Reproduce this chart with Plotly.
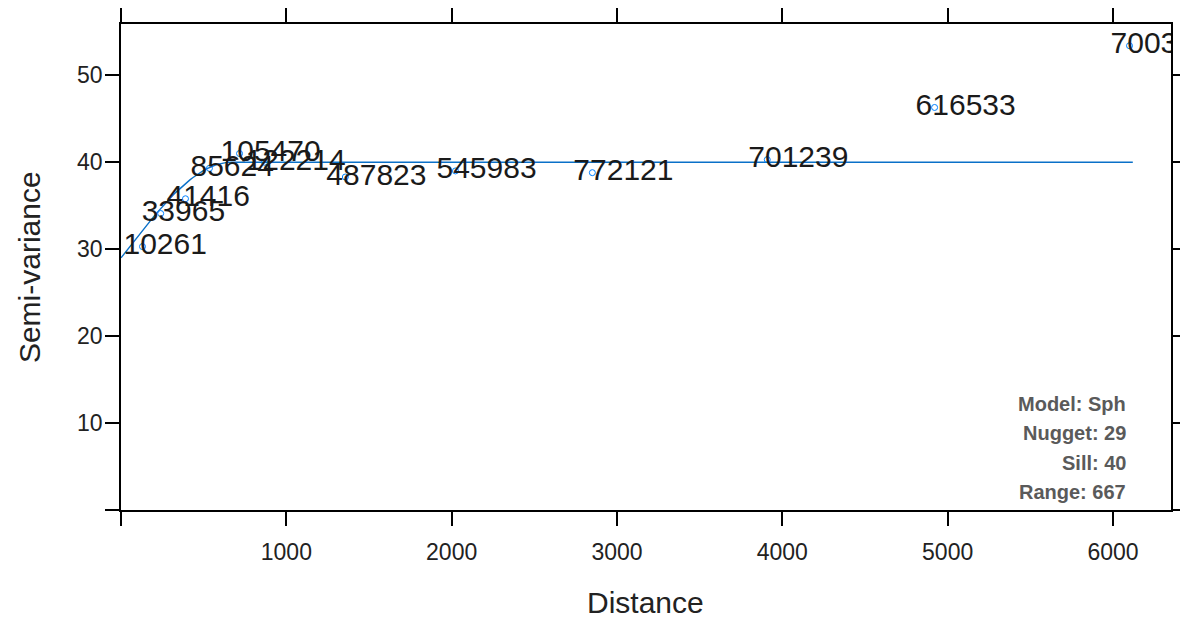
import plotly.graph_objects as go

# ---- data ----
dist = [130, 240, 390, 535, 717, 868, 1357, 2023, 2851, 3909, 4921, 6100]
gamma = [30.3, 34.1, 35.8, 39.3, 41.0, 40.0, 38.3, 39.0, 38.8, 40.3, 46.3, 53.4]
npairs = ["10261", "33965", "41416", "85624", "105470", "122214",
          "487823", "545983", "772121", "701239", "616533", "700344"]

model_name = "Sph"
model_nugget = 29
model_sill = 40
model_range = 667

x_ticks = [0, 1000, 2000, 3000, 4000, 5000, 6000]
x_ticktext = ["", "1000", "2000", "3000", "4000", "5000", "6000"]
y_ticks = [0, 10, 20, 30, 40, 50]
y_ticktext = ["", "10", "20", "30", "40", "50"]

x_range = [0, 6351]
y_range = [0, 55.9]

# fitted spherical model line (from the parameters shown on the chart)
model_x = [model_range * i / 40 for i in range(41)] + [max(dist) + 20]
model_y = []
for h in model_x:
    if h <= model_range:
        r = h / model_range
        model_y.append(model_nugget + (model_sill - model_nugget) * (1.5 * r - 0.5 * r ** 3))
    else:
        model_y.append(model_sill)

W, H = 1195, 620
ML, MR, MT, MB = 121, 8, 22, 110
plot_w = 1172 - ML
plot_h = H - MT - MB
label_shift_px = 19
shift_data = label_shift_px * (x_range[1] - x_range[0]) / plot_w

FONT = "Liberation Sans, Arial, sans-serif"
LINE_COL = "#0a70c8"

fig = go.Figure()
fig.add_trace(go.Scatter(x=model_x, y=model_y, mode="lines",
                         line=dict(color=LINE_COL, width=1.4),
                         hoverinfo="skip", showlegend=False))
fig.add_trace(go.Scatter(x=dist, y=gamma, mode="markers",
                         marker=dict(symbol="circle-open", size=6, color="#0080ff",
                                     line=dict(width=1)),
                         showlegend=False))
fig.add_trace(go.Scatter(x=dist, y=gamma, mode="text", text=npairs,
                         textposition="middle right", xaxis="x2",
                         textfont=dict(family=FONT, size=30, color="#1a1a1a"),
                         cliponaxis=True, showlegend=False, hoverinfo="skip"))

axis_common = dict(showline=True, linecolor="black", linewidth=1.5, mirror="allticks",
                   ticks="outside", tickcolor="black", tickwidth=1.5, ticklen=14,
                   showgrid=False, zeroline=False)

fig.update_layout(
    width=W, height=H, autosize=False,
    margin=dict(l=ML, r=MR, t=MT, b=MB),
    plot_bgcolor="white", paper_bgcolor="white",
    showlegend=False,
    xaxis=dict(range=x_range, tickvals=x_ticks, ticktext=x_ticktext,
               tickfont=dict(family=FONT, size=23, color="#222"),
               ticklabelstandoff=7, **axis_common),
    xaxis2=dict(range=[x_range[0] + shift_data, x_range[1] + shift_data],
                overlaying="x", visible=False),
    yaxis=dict(range=y_range, tickvals=y_ticks, ticktext=y_ticktext,
               tickfont=dict(family=FONT, size=23, color="#222"),
               ticklabelstandoff=-2, **axis_common),
)


def px_to_paper_x(px):
    return (px - ML) / plot_w


def px_to_paper_y(py):
    return (H - MB - py) / plot_h


annotations = [
    dict(text="Distance", x=px_to_paper_x(646), y=px_to_paper_y(603),
         xanchor="center", yanchor="middle",
         xref="paper", yref="paper", showarrow=False,
         font=dict(family=FONT, size=30, color="#222")),
    dict(text="Semi-variance", x=px_to_paper_x(29), y=px_to_paper_y(266),
         xanchor="center", yanchor="middle",
         xref="paper", yref="paper", textangle=-90, showarrow=False,
         font=dict(family=FONT, size=30, color="#222")),
]

stats = ["Model: " + model_name, "Nugget: " + str(model_nugget),
         "Sill: " + str(model_sill), "Range: " + str(model_range)]
for i, s in enumerate(stats):
    annotations.append(dict(text="<b>" + s + "</b>", x=px_to_paper_x(1129), xanchor="right",
                            y=px_to_paper_y(403.5 + 29.5 * i), yanchor="middle",
                            xref="paper", yref="paper", showarrow=False,
                            font=dict(family=FONT, size=20, color="#5a5a5a")))
fig.update_layout(annotations=annotations)

post = ("document.documentElement.style.overflow='hidden';"
        "document.body.style.overflow='hidden';document.body.style.margin='0';")
fig.write_html("out.html", config={"responsive": False}, post_script=post)
